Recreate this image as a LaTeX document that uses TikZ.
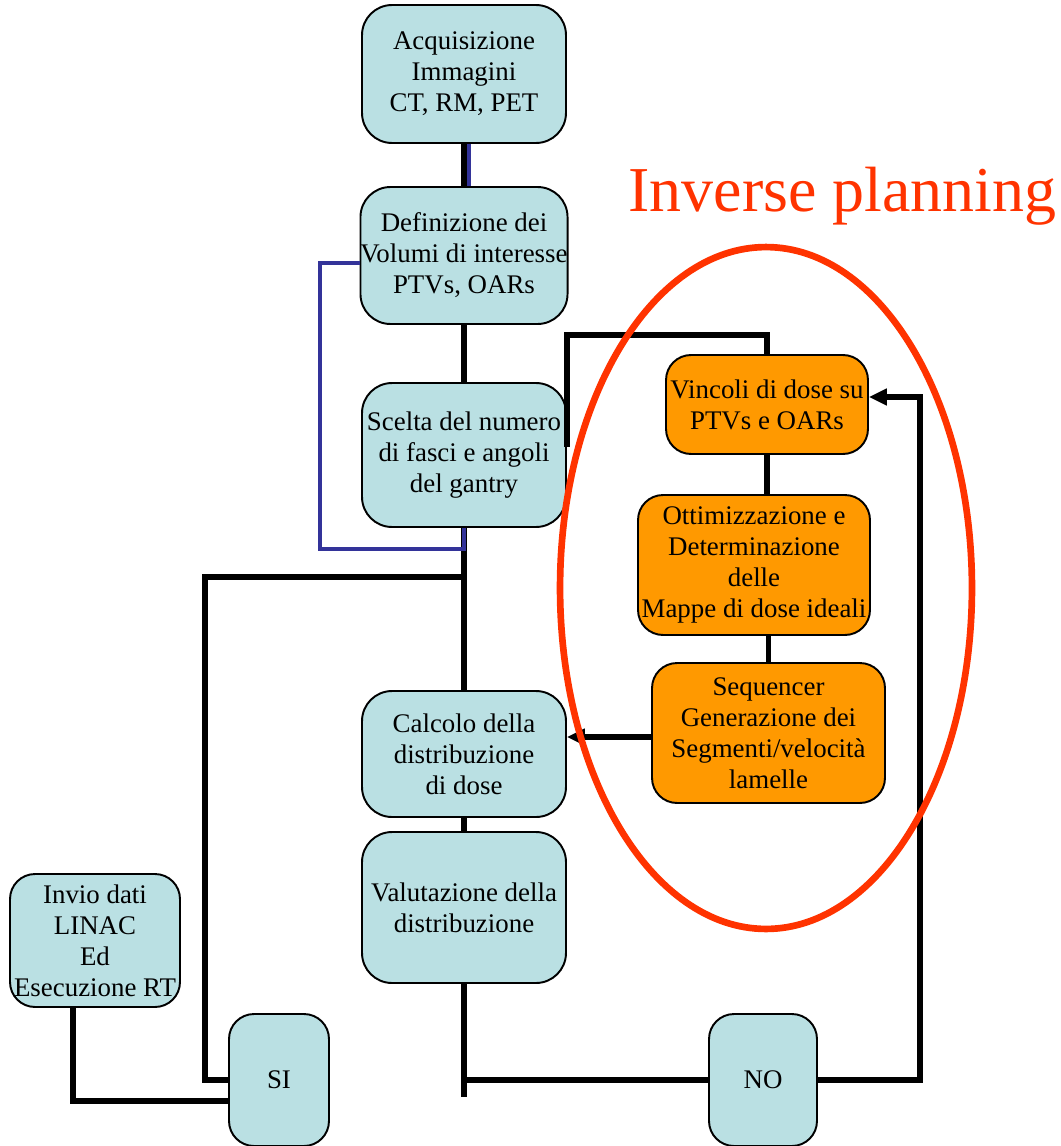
\documentclass[tikz,border=0pt]{standalone}
\usepackage{fontspec}
\setmainfont{Liberation Serif}
\newfontfamily\stagefont{Liberation Serif}
\usetikzlibrary{arrows.meta}
\definecolor{boxblue}{HTML}{BAE0E3}
\definecolor{boxorange}{HTML}{FF9900}
\definecolor{ringred}{HTML}{FF3300}
\definecolor{loopblue}{HTML}{333399}
\begin{document}
\begin{tikzpicture}[x=0.02cm, y=-0.02cm]
			\tikzstyle{stage} = [draw, line width=1.1pt, rounded corners=0.6cm, fill=boxblue, align=center, inner sep=0pt, font=\stagefont\fontsize{15.3}{17.6}\selectfont]
			\tikzstyle{ipstage} = [stage, fill=boxorange]
			\tikzstyle{link} = [line width=3.4pt]
			\tikzstyle{bluelink} = [loopblue, line width=2.8pt]
			\tikzstyle{back} = [link, -{Triangle[length=0.36cm, width=0.32cm]}]
			\useasboundingbox (0,0) rectangle (1061,1146);
			% main chain
			\node[stage, minimum width=4.08cm, minimum height=2.76cm] (a1) at (464,74) {Acquisizione\\Immagini\\CT, RM, PET};
			\node[stage, minimum width=4.08cm, minimum height=2.74cm] (a2) at (464,255.5) {Definizione dei\\Volumi di interesse\\PTVs, OARs};
			\node[stage, minimum width=4.08cm, minimum height=2.88cm] (a3) at (464,455) {Scelta del numero\\di fasci e angoli\\del gantry};
			\node[stage, minimum width=4.08cm, minimum height=2.52cm] (a4) at (464,754) {Calcolo della\\distribuzione\\di dose};
			\node[stage, minimum width=4.08cm, minimum height=3.02cm] (a5) at (464,907.5) {Valutazione della\\distribuzione};
			\node[stage, minimum width=3.4cm, minimum height=2.66cm, rounded corners=0.5cm] (invio) at (95,940.5) {Invio dati\\LINAC\\Ed\\Esecuzione RT};
			\node[stage, minimum width=2cm, minimum height=2.64cm, rounded corners=0.5cm] (si) at (279,1080) {SI};
			\node[stage, minimum width=2.16cm, minimum height=2.64cm, rounded corners=0.5cm] (no) at (763,1080) {NO};
			% inverse planning
			\node[ipstage, minimum width=4.04cm, minimum height=1.98cm, rounded corners=0.5cm] (o1) at (767,404.5) {Vincoli di dose su\\PTVs e OARs};
			\node[ipstage, minimum width=4.64cm, minimum height=2.8cm, rounded corners=0.5cm] (o2) at (754,565) {Ottimizzazione e\\Determinazione\\delle\\Mappe di dose ideali};
			\node[ipstage, minimum width=4.66cm, minimum height=2.8cm, rounded corners=0.5cm] (o3) at (768.5,733) {Sequencer\\Generazione dei\\Segmenti/velocità\\lamelle};
			\node[anchor=base west, inner sep=0pt, text=ringred, font=\stagefont\fontsize{36.4}{40}\selectfont] (title) at (628,211) {Inverse planning};
			\coordinate (loopL) at (320,549);
			\coordinate (split) at (464,577);
			\coordinate (siL) at (205,1080);
			\coordinate (spineEnd) at (464,1097);
			\coordinate (backR) at (920,397);
			\coordinate (seqOut) at (652,737);
			\coordinate (topL) at (567,335);
			% connectors
			\draw[bluelink] ([xshift=0.09cm]a1.south) -- ([xshift=0.09cm]a2.north);
			\foreach \from/\to in {a1/a2, a2/a3, a3/a4, a4/a5}
			\draw[link] (\from) -- (\to);
			\draw[bluelink] ([yshift=-0.15cm]a2.west) -| (loopL) -| (a3.south);
			\draw[link] (split) -| (siL) -- (si.west);
			\draw[link] ([xshift=-0.44cm]invio.south) |- ([yshift=-0.42cm]si.west);
			\draw[link] (a5.south) -- (spineEnd);
			\draw[link] (a5.south |- no.west) -- (no.west);
			\draw[back] (no.east) -| (backR) -- (o1.east |- backR);
			\draw[back] (seqOut) -- (a4.east |- seqOut);
			\draw[link] (o1.north) |- (topL) -- ++(0,112);
			\draw[link] (o1.south) -- (o1.south |- o2.north);
			\draw[link] (o3.north |- o2.south) -- (o3.north);
			\draw[ringred, line width=3.8pt] (766,588) ellipse [x radius=4.12cm, y radius=6.82cm];
			\end{tikzpicture}
\end{document}
